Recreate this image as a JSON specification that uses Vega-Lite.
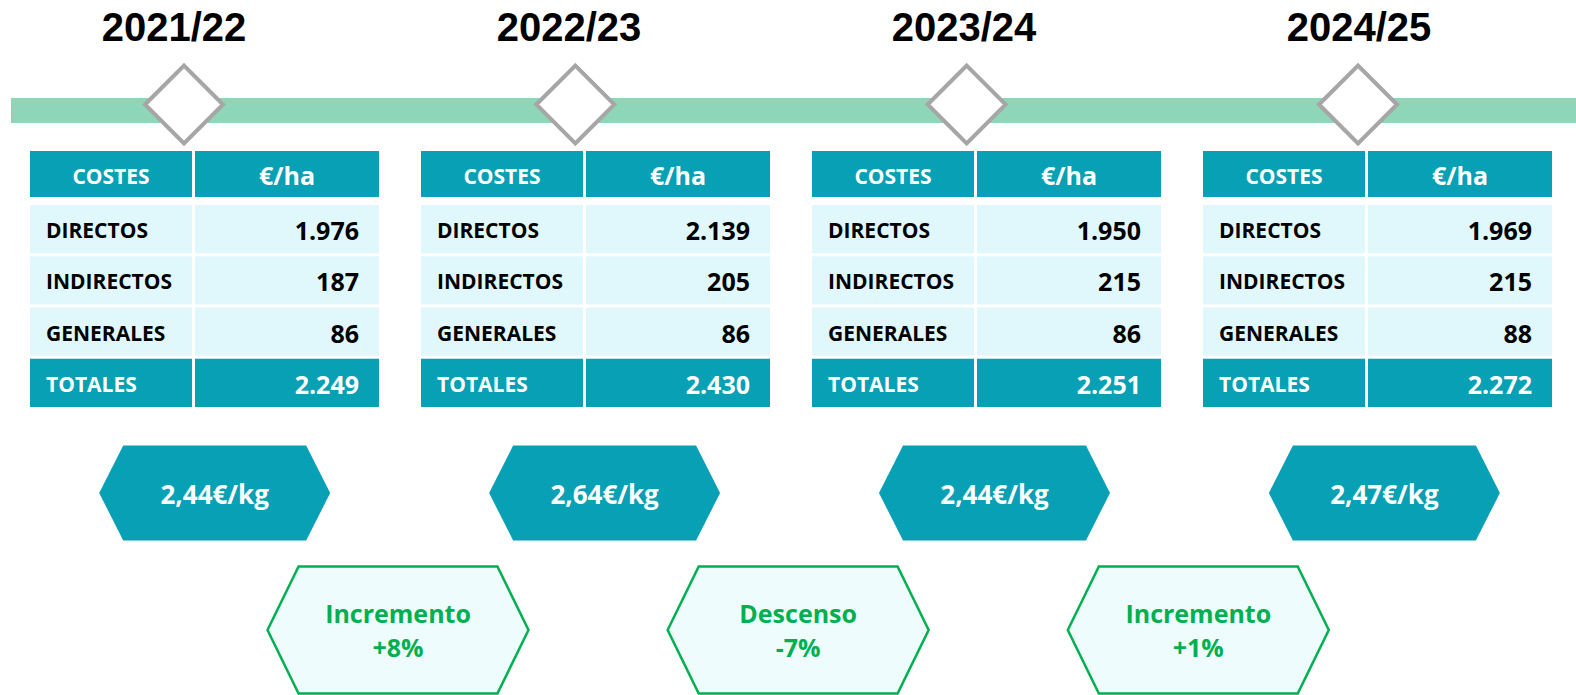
{
  "$schema": "https://vega.github.io/schema/vega-lite/v6.json",
  "width": 1576,
  "height": 695,
  "padding": 0,
  "autosize": {"type": "none"},
  "background": "white",
  "config": {
    "view": {"stroke": null},
    "font": "Open Sans",
    "locale": {
      "number": {"decimal": ",", "thousands": ".", "grouping": [3], "currency": ["", "€/kg"], "minus": "-", "percent": "%"}
    }
  },
  "datasets": {
    "linea": [{"elemento": "línea de tiempo"}],
    "campanas": [
      {"campana": "2021/22", "precio": 2.44},
      {"campana": "2022/23", "precio": 2.64},
      {"campana": "2023/24", "precio": 2.44},
      {"campana": "2024/25", "precio": 2.47}
    ],
    "costes": [
      {"campana": "2021/22", "concepto": "DIRECTOS", "valor": 1976, "tipo": "detalle"},
      {"campana": "2021/22", "concepto": "INDIRECTOS", "valor": 187, "tipo": "detalle"},
      {"campana": "2021/22", "concepto": "GENERALES", "valor": 86, "tipo": "detalle"},
      {"campana": "2021/22", "concepto": "TOTALES", "valor": 2249, "tipo": "total"},
      {"campana": "2022/23", "concepto": "DIRECTOS", "valor": 2139, "tipo": "detalle"},
      {"campana": "2022/23", "concepto": "INDIRECTOS", "valor": 205, "tipo": "detalle"},
      {"campana": "2022/23", "concepto": "GENERALES", "valor": 86, "tipo": "detalle"},
      {"campana": "2022/23", "concepto": "TOTALES", "valor": 2430, "tipo": "total"},
      {"campana": "2023/24", "concepto": "DIRECTOS", "valor": 1950, "tipo": "detalle"},
      {"campana": "2023/24", "concepto": "INDIRECTOS", "valor": 215, "tipo": "detalle"},
      {"campana": "2023/24", "concepto": "GENERALES", "valor": 86, "tipo": "detalle"},
      {"campana": "2023/24", "concepto": "TOTALES", "valor": 2251, "tipo": "total"},
      {"campana": "2024/25", "concepto": "DIRECTOS", "valor": 1969, "tipo": "detalle"},
      {"campana": "2024/25", "concepto": "INDIRECTOS", "valor": 215, "tipo": "detalle"},
      {"campana": "2024/25", "concepto": "GENERALES", "valor": 88, "tipo": "detalle"},
      {"campana": "2024/25", "concepto": "TOTALES", "valor": 2272, "tipo": "total"}
    ],
    "variaciones": [
      {"tramo": "2021/22 → 2022/23", "tendencia": "Incremento", "variacion": 0.08},
      {"tramo": "2022/23 → 2023/24", "tendencia": "Descenso", "variacion": -0.07},
      {"tramo": "2023/24 → 2024/25", "tendencia": "Incremento", "variacion": 0.01}
    ]
  },
  "resolve": {"scale": {"x": "independent", "y": "independent"}},
  "layer": [
    {
      "data": {"name": "linea"},
      "mark": {"type": "rect", "color": "#8ED6B8"},
      "encoding": {
        "x": {"field": "elemento", "type": "nominal", "axis": null, "scale": {"type": "band", "range": [11, 1576], "paddingInner": 0, "paddingOuter": 0}},
        "y": {"field": "elemento", "type": "nominal", "axis": null, "scale": {"type": "band", "range": [98, 123], "paddingInner": 0, "paddingOuter": 0}}
      }
    },
    {
      "data": {"name": "campanas"},
      "mark": {"type": "point", "shape": "diamond", "size": 6084, "filled": true, "fill": "white", "stroke": "#A6A6A6", "strokeWidth": 4, "opacity": 1},
      "encoding": {
        "x": {"field": "campana", "type": "ordinal", "axis": null, "scale": {"type": "point", "range": [184, 1358], "padding": 0}},
        "y": {"datum": "rombo", "type": "nominal", "axis": null, "scale": {"type": "point", "range": [94.5, 114.5], "padding": 0.5}}
      }
    },
    {
      "data": {"name": "campanas"},
      "mark": {"type": "text", "font": "Liberation Sans", "fontSize": 40, "fontWeight": "bold", "color": "black", "align": "center", "baseline": "middle", "dy": 2},
      "encoding": {
        "x": {"field": "campana", "type": "ordinal", "axis": null, "scale": {"type": "point", "range": [174, 1359], "padding": 0}},
        "y": {"datum": "título", "type": "nominal", "axis": null, "scale": {"type": "point", "range": [17, 37], "padding": 0.5}},
        "text": {"field": "campana"}
      }
    },
    {
      "data": {"name": "campanas"},
      "encoding": {
        "x": {"field": "campana", "type": "ordinal", "axis": null, "scale": {"type": "band", "range": [30, 1365], "paddingInner": 0.5857, "paddingOuter": 0}},
        "y": {"datum": "cabecera", "type": "nominal", "axis": null, "scale": {"type": "band", "range": [151, 197], "paddingInner": 0, "paddingOuter": 0}}
      },
      "layer": [
        {"mark": {"type": "rect", "color": "#07A0B4"}},
        {"mark": {"type": "text", "text": "COSTES", "fontSize": 21, "fontWeight": "bold", "color": "white", "align": "center", "baseline": "middle", "dy": 4}}
      ]
    },
    {
      "data": {"name": "campanas"},
      "encoding": {
        "x": {"field": "campana", "type": "ordinal", "axis": null, "scale": {"type": "band", "range": [195, 1552], "paddingInner": 0.5294, "paddingOuter": 0}},
        "y": {"datum": "cabecera", "type": "nominal", "axis": null, "scale": {"type": "band", "range": [151, 197], "paddingInner": 0, "paddingOuter": 0}}
      },
      "layer": [
        {"mark": {"type": "rect", "color": "#07A0B4"}},
        {"mark": {"type": "text", "text": "€/ha", "fontSize": 25, "fontWeight": "bold", "color": "white", "align": "center", "baseline": "middle", "dy": 3}}
      ]
    },
    {
      "data": {"name": "costes"},
      "encoding": {
        "x": {"field": "campana", "type": "ordinal", "axis": null, "scale": {"type": "band", "range": [30, 1365], "paddingInner": 0.5857, "paddingOuter": 0}},
        "y": {"field": "concepto", "type": "nominal", "axis": null, "sort": null, "scale": {"type": "band", "domain": ["DIRECTOS", "INDIRECTOS", "GENERALES", "TOTALES"], "range": [205, 407], "paddingInner": 0.0585, "paddingOuter": 0}}
      },
      "layer": [
        {
          "mark": {"type": "rect"},
          "encoding": {"fill": {"field": "tipo", "type": "nominal", "legend": null, "scale": {"domain": ["detalle", "total"], "range": ["#E0F8FC", "#07A0B4"]}}}
        },
        {
          "mark": {"type": "text", "fontSize": 21, "fontWeight": "bold", "align": "left", "baseline": "middle", "dx": 16, "dy": 3},
          "encoding": {
            "x": {"field": "campana", "type": "ordinal", "axis": null, "bandPosition": 0, "scale": {"type": "band", "range": [30, 1365], "paddingInner": 0.5857, "paddingOuter": 0}},
            "text": {"field": "concepto"},
            "color": {"field": "tipo", "type": "nominal", "legend": null, "scale": {"domain": ["detalle", "total"], "range": ["#000000", "#FFFFFF"]}}
          }
        }
      ]
    },
    {
      "data": {"name": "costes"},
      "encoding": {
        "x": {"field": "campana", "type": "ordinal", "axis": null, "scale": {"type": "band", "range": [195, 1552], "paddingInner": 0.5294, "paddingOuter": 0}},
        "y": {"field": "concepto", "type": "nominal", "axis": null, "sort": null, "scale": {"type": "band", "domain": ["DIRECTOS", "INDIRECTOS", "GENERALES", "TOTALES"], "range": [205, 407], "paddingInner": 0.0585, "paddingOuter": 0}}
      },
      "layer": [
        {
          "mark": {"type": "rect"},
          "encoding": {"fill": {"field": "tipo", "type": "nominal", "legend": null, "scale": {"domain": ["detalle", "total"], "range": ["#E0F8FC", "#07A0B4"]}}}
        },
        {
          "mark": {"type": "text", "fontSize": 25, "fontWeight": "bold", "align": "right", "baseline": "middle", "dx": -20, "dy": 3},
          "encoding": {
            "x": {"field": "campana", "type": "ordinal", "axis": null, "bandPosition": 1, "scale": {"type": "band", "range": [195, 1552], "paddingInner": 0.5294, "paddingOuter": 0}},
            "text": {"field": "valor", "type": "quantitative", "format": ",.0f"},
            "color": {"field": "tipo", "type": "nominal", "legend": null, "scale": {"domain": ["detalle", "total"], "range": ["#000000", "#FFFFFF"]}}
          }
        }
      ]
    },
    {
      "data": {"name": "campanas"},
      "encoding": {
        "x": {"field": "campana", "type": "ordinal", "axis": null, "scale": {"type": "point", "range": [214.7, 1384.4], "padding": 0}},
        "y": {"datum": "precio", "type": "nominal", "axis": null, "scale": {"type": "point", "range": [483, 503], "padding": 0.5}}
      },
      "layer": [
        {"mark": {"type": "point", "shape": "M-1,0L-0.792,-0.411L0.792,-0.411L1,0L0.792,0.411L-0.792,0.411Z", "size": 53361, "filled": true, "fill": "#07A0B4", "strokeWidth": 0, "opacity": 1}},
        {
          "mark": {"type": "text", "fontSize": 26, "fontWeight": "bold", "color": "white", "align": "center", "baseline": "middle", "dy": 3},
          "encoding": {"text": {"field": "precio", "type": "quantitative", "format": "$.2f"}}
        }
      ]
    },
    {
      "data": {"name": "variaciones"},
      "encoding": {
        "x": {"field": "tramo", "type": "ordinal", "axis": null, "scale": {"type": "point", "range": [398, 1198.3], "padding": 0}},
        "y": {"datum": "variación", "type": "nominal", "axis": null, "scale": {"type": "point", "range": [620, 640], "padding": 0.5}}
      },
      "layer": [
        {"mark": {"type": "point", "shape": "M-1,0L-0.762,-0.487L0.762,-0.487L1,0L0.762,0.487L-0.762,0.487Z", "size": 68121, "filled": true, "fill": "#EFFCFE", "stroke": "#00B050", "strokeWidth": 2.5, "opacity": 1}},
        {
          "mark": {"type": "text", "fontSize": 25, "fontWeight": "bold", "color": "#00B050", "align": "center", "baseline": "middle", "dy": -15},
          "encoding": {"text": {"field": "tendencia"}}
        },
        {
          "mark": {"type": "text", "fontSize": 25, "fontWeight": "bold", "color": "#00B050", "align": "center", "baseline": "middle", "dy": 19},
          "encoding": {"text": {"field": "variacion", "type": "quantitative", "format": "+.0%"}}
        }
      ]
    }
  ]
}
